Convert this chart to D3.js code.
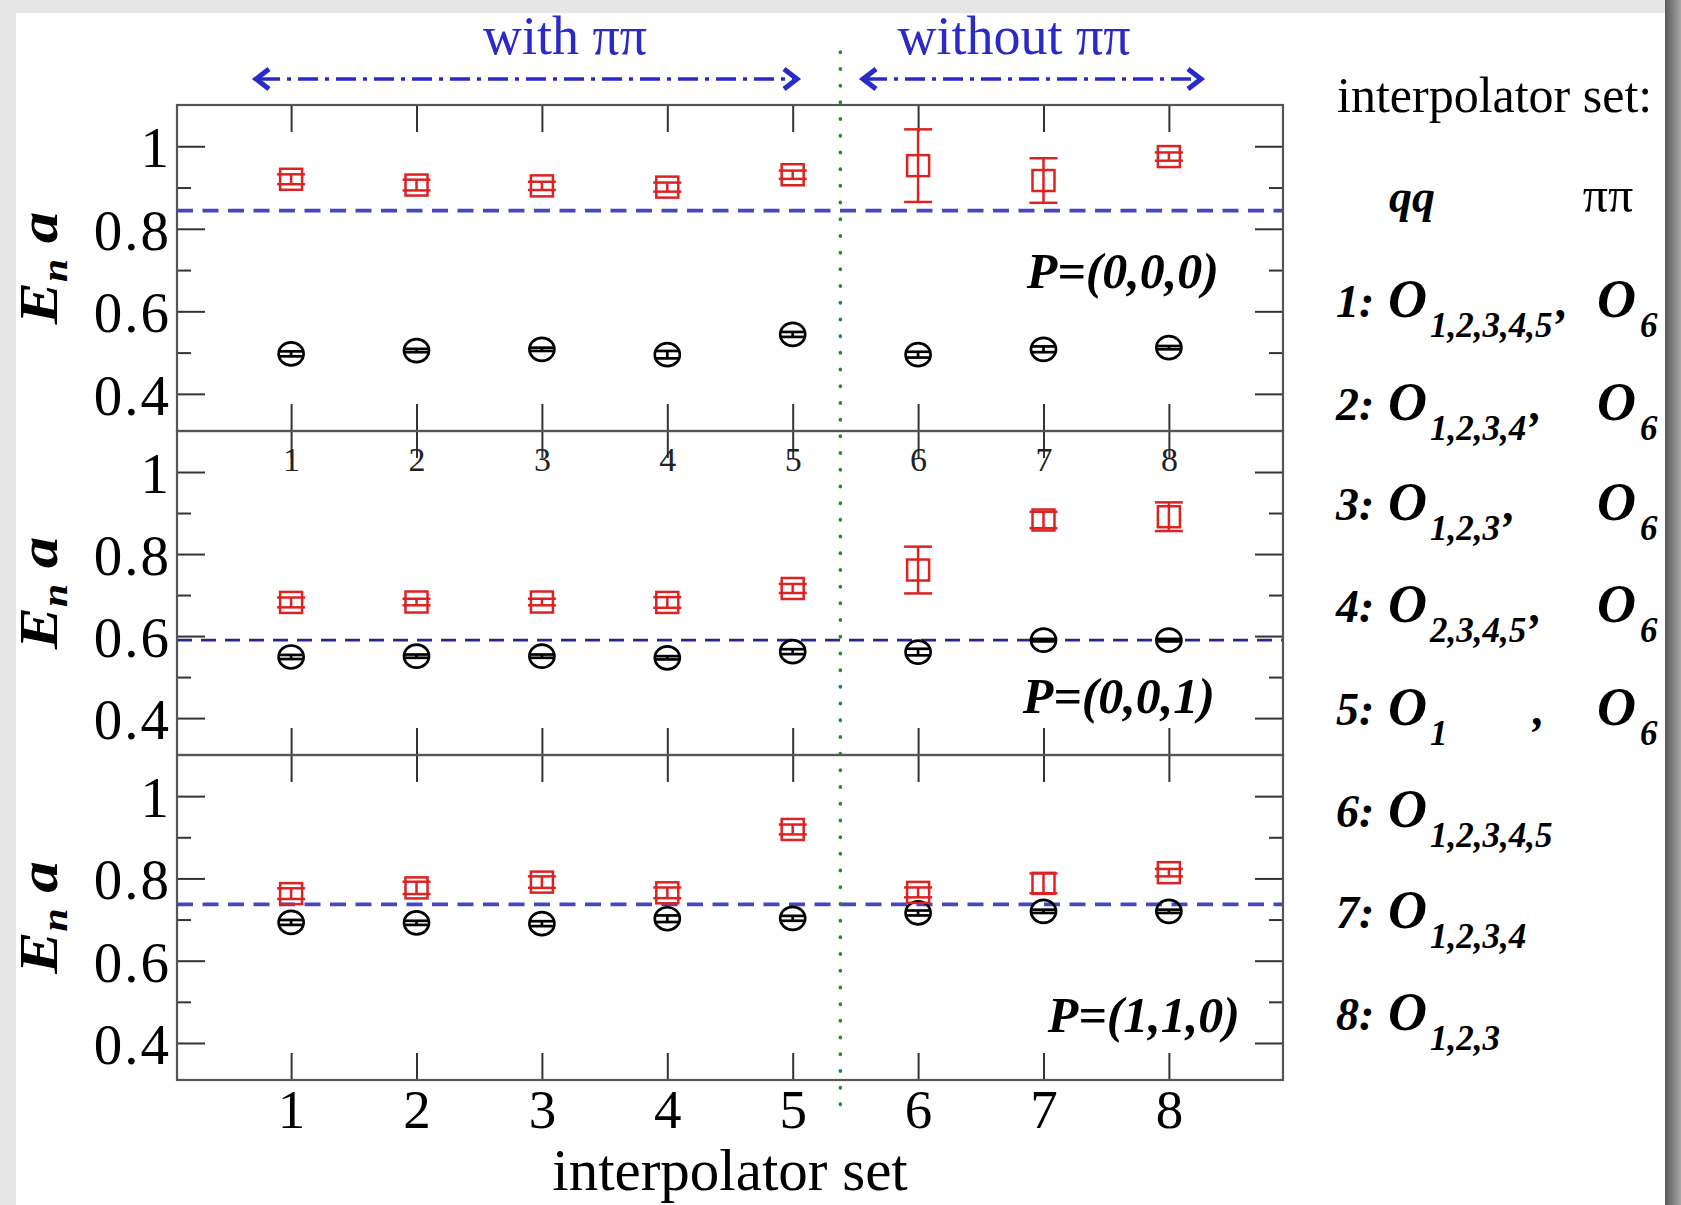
<!DOCTYPE html>
<html>
<head>
<meta charset="utf-8">
<script src="https://cdn.jsdelivr.net/npm/d3@7"></script>
<style>
  body { margin: 0; background: #e6e6e6; }
  svg { display: block; }
  text { font-family: "Liberation Serif", "Times New Roman", serif; }
</style>
</head>
<body>
<svg id="chart" width="1681" height="1205"></svg>
<script>
// ---- data ---------------------------------------------------------------
const sets = [1, 2, 3, 4, 5, 6, 7, 8];
const yTicks = [0.4, 0.6, 0.8, 1];
const yMinorTicks = [0.5, 0.7, 0.9];
const momenta = ["P=(0,0,0)", "P=(0,0,1)", "P=(1,1,0)"];

// first excited level (red squares) and ground level (black circles), E_n a
const excitedP000 = [0.920, 0.906, 0.904, 0.901, 0.931, 0.953, 0.917, 0.975];
const excitedErrP000 = [0.012, 0.013, 0.010, 0.011, 0.010, 0.088, 0.054, 0.010];
const groundP000 = [0.497, 0.505, 0.508, 0.495, 0.544, 0.495, 0.508, 0.512];
const groundErrP000 = [0.006, 0.004, 0.004, 0.009, 0.006, 0.007, 0.007, 0.004];

const excitedP001 = [0.682, 0.683, 0.683, 0.682, 0.716, 0.761, 0.883, 0.891];
const excitedErrP001 = [0.012, 0.008, 0.008, 0.013, 0.011, 0.057, 0.020, 0.035];
const groundP001 = [0.549, 0.551, 0.551, 0.547, 0.562, 0.561, 0.590, 0.590];
const groundErrP001 = [0.005, 0.004, 0.004, 0.004, 0.006, 0.008, 0.003, 0.003];

const excitedP110 = [0.763, 0.777, 0.791, 0.765, 0.919, 0.766, 0.788, 0.814];
const excitedErrP110 = [0.013, 0.015, 0.014, 0.013, 0.012, 0.012, 0.024, 0.009];
const groundP110 = [0.693, 0.692, 0.690, 0.702, 0.703, 0.716, 0.720, 0.720];
const groundErrP110 = [0.006, 0.005, 0.006, 0.008, 0.006, 0.006, 0.004, 0.004];

// two-pion threshold in each frame
const thresholds = [0.844, 0.590, 0.737];
// boundary between bases with and without the pi-pi interpolator
const piPiSplit = 5.38;

// interpolator-set legend
const setLabels = ["1:", "2:", "3:", "4:", "5:", "6:", "7:", "8:"];
const qqSubscripts = ["1,2,3,4,5", "1,2,3,4", "1,2,3", "2,3,4,5", "1", "1,2,3,4,5", "1,2,3,4", "1,2,3"];
const hasPiPi = [true, true, true, true, true, false, false, false];

const panels = [
  { label: momenta[0], exc: excitedP000, excErr: excitedErrP000, gnd: groundP000, gndErr: groundErrP000, thr: thresholds[0] },
  { label: momenta[1], exc: excitedP001, excErr: excitedErrP001, gnd: groundP001, gndErr: groundErrP001, thr: thresholds[1] },
  { label: momenta[2], exc: excitedP110, excErr: excitedErrP110, gnd: groundP110, gndErr: groundErrP110, thr: thresholds[2] }
];

// ---- layout ---------------------------------------------------------------
const W = 1681, H = 1205;
const plotL = 177, plotR = 1283;
const panelTop = [105, 431, 755];
const panelBottom = [431, 755, 1080];
const RED = "#dd2222", BLUE = "#2a2ac8", DASH_BLUE = "#4646c4";

const svg = d3.select("#chart");

// page backdrop with a soft edge on the right
const defs = svg.append("defs");
const edge = defs.append("linearGradient").attr("id", "edge")
  .attr("x1", 0).attr("x2", 1).attr("y1", 0).attr("y2", 0);
edge.append("stop").attr("offset", 0).attr("stop-color", "#5a5a5a");
edge.append("stop").attr("offset", 1).attr("stop-color", "#a8a8a8");
svg.append("rect").attr("width", W).attr("height", H).attr("fill", "#e6e6e6");
svg.append("rect").attr("x", 1665).attr("y", 0).attr("width", 16).attr("height", H).attr("fill", "url(#edge)");
svg.append("rect").attr("x", 16).attr("y", 13).attr("width", 1649).attr("height", H - 13).attr("fill", "#fff");

const x = d3.scaleLinear().domain([0.09, 8.91]).range([plotL, plotR]);

function styleAxis(sel) {
  sel.select(".domain").remove();
  sel.selectAll(".tick line").attr("stroke", "#333").attr("stroke-width", 2);
  sel.selectAll(".tick text").attr("fill", "#000").attr("font-family", "Liberation Serif");
}

const yFmt = d => d === 1 ? "1" : d3.format(".1f")(d);

panels.forEach((p, i) => {
  const top = panelTop[i], bottom = panelBottom[i];
  const y = d3.scaleLinear().domain([0.31, 1.1]).range([bottom, top]);
  const g = svg.append("g").attr("class", "panel");

  // threshold line
  g.append("line")
    .attr("x1", x.range()[0]).attr("x2", x.range()[1])
    .attr("y1", y(p.thr)).attr("y2", y(p.thr))
    .attr("stroke", i === 1 ? "#26268e" : DASH_BLUE)
    .attr("stroke-width", i === 1 ? 2.6 : 3.6)
    .attr("stroke-dasharray", i === 1 ? "15 9" : "16 9.5");

  // x ticks, inward on top and bottom
  g.append("g").attr("transform", `translate(0,${bottom})`)
    .call(d3.axisBottom(x).tickValues(sets).tickSize(-27)
      .tickPadding(9).tickFormat(i === 2 ? d3.format("d") : () => ""))
    .call(styleAxis)
    .call(a => a.selectAll(".tick text").attr("font-size", 55));
  g.append("g").attr("transform", `translate(0,${top})`)
    .call(d3.axisTop(x).tickValues(sets).tickSize(-27).tickFormat(() => ""))
    .call(styleAxis);

  // y ticks, major and minor, both sides
  g.append("g").attr("transform", `translate(${plotL},0)`)
    .call(d3.axisLeft(y).tickValues(yTicks).tickSize(-28).tickPadding(6).tickFormat(yFmt))
    .call(styleAxis)
    .call(a => a.selectAll(".tick text").attr("font-size", 57).attr("letter-spacing", 2)
      .attr("dy", "0.36em"));
  g.append("g").attr("transform", `translate(${plotL},0)`)
    .call(d3.axisLeft(y).tickValues(yMinorTicks).tickSize(-14).tickFormat(() => ""))
    .call(styleAxis);
  g.append("g").attr("transform", `translate(${plotR},0)`)
    .call(d3.axisRight(y).tickValues(yTicks).tickSize(-28).tickFormat(() => ""))
    .call(styleAxis);
  g.append("g").attr("transform", `translate(${plotR},0)`)
    .call(d3.axisRight(y).tickValues(yMinorTicks).tickSize(-14).tickFormat(() => ""))
    .call(styleAxis);

  // frame
  g.append("rect")
    .attr("x", plotL).attr("y", top)
    .attr("width", plotR - plotL).attr("height", bottom - top)
    .attr("fill", "none").attr("stroke", "#555").attr("stroke-width", 2.2);

  // ground level: open circles with error bars
  const gnd = g.append("g").attr("stroke", "#000").attr("stroke-width", 2.7).attr("fill", "none");
  sets.forEach((s, k) => {
    const cx = x(s), v = p.gnd[k], e = p.gndErr[k];
    const y0 = y(v - e), y1 = y(v + e);
    gnd.append("line").attr("x1", cx).attr("x2", cx).attr("y1", y0).attr("y2", y1);
    gnd.append("line").attr("x1", cx - 12).attr("x2", cx + 12).attr("y1", y0).attr("y2", y0);
    gnd.append("line").attr("x1", cx - 12).attr("x2", cx + 12).attr("y1", y1).attr("y2", y1);
    gnd.append("ellipse").attr("cx", cx).attr("cy", y(v)).attr("rx", 12.5).attr("ry", 11.5);
  });

  // excited level: open squares with error bars
  const exc = g.append("g").attr("stroke", RED).attr("stroke-width", 2.5).attr("fill", "none");
  sets.forEach((s, k) => {
    const cx = x(s), v = p.exc[k], e = p.excErr[k];
    const y0 = y(v - e), y1 = y(v + e);
    exc.append("line").attr("x1", cx).attr("x2", cx).attr("y1", y0).attr("y2", y1);
    exc.append("line").attr("x1", cx - 14).attr("x2", cx + 14).attr("y1", y0).attr("y2", y0);
    exc.append("line").attr("x1", cx - 14).attr("x2", cx + 14).attr("y1", y1).attr("y2", y1);
    exc.append("rect").attr("x", cx - 11).attr("y", y(v) - 10.5).attr("width", 22).attr("height", 21);
  });

  // momentum label
  const labelEnd = [1219, 1215, 1240][i];
  const labelBase = [288, 713, 1032][i];
  g.append("text")
    .attr("x", labelEnd).attr("y", labelBase)
    .attr("text-anchor", "end")
    .attr("font-size", 50).attr("font-weight", "bold").attr("font-style", "italic")
    .text(p.label);

  // E_n a axis title (glyphs a little wide, as in the typeset figure)
  const t = g.append("text")
    .attr("transform", `translate(57,${(top + bottom) / 2}) rotate(-90) scale(1.15,1)`)
    .attr("text-anchor", "middle")
    .attr("font-size", 55).attr("font-weight", "bold").attr("font-style", "italic");
  t.append("tspan").text("E");
  t.append("tspan").attr("font-size", 36).attr("dy", 10).text("n");
  t.append("tspan").attr("dy", -10).text(" a");
});

// small set numbers just below the top panel
svg.append("g").attr("transform", `translate(0,${panelBottom[0]})`)
  .call(d3.axisBottom(x).tickValues(sets).tickSize(0).tickPadding(16).tickFormat(d3.format("d")))
  .call(a => a.select(".domain").remove())
  .call(a => a.selectAll(".tick line").remove())
  .call(a => a.selectAll(".tick text").attr("font-size", 34).attr("fill", "#222")
    .attr("font-family", "Liberation Serif"));

// with / without pi-pi separator
svg.append("line")
  .attr("x1", x(piPiSplit)).attr("x2", x(piPiSplit))
  .attr("y1", 52).attr("y2", 1108)
  .attr("stroke", "#1f8a2e").attr("stroke-width", 3.5)
  .attr("stroke-linecap", "round")
  .attr("stroke-dasharray", "0.5 16.2");

// x-axis title
svg.append("text")
  .attr("x", (plotL + plotR) / 2).attr("y", 1190)
  .attr("text-anchor", "middle").attr("font-size", 59)
  .text("interpolator set");

// range headers with double-headed dash-dot arrows
function rangeArrow(xa, xb, yy) {
  const gA = svg.append("g").attr("stroke", BLUE).attr("fill", "none").attr("stroke-width", 3.6);
  gA.append("line").attr("x1", xa + 6).attr("x2", xb - 6).attr("y1", yy).attr("y2", yy)
    .attr("stroke-dasharray", "20 7 4 7");
  gA.append("path").attr("d", `M${xa + 15},${yy - 10} L${xa + 2},${yy} L${xa + 15},${yy + 10}`)
    .attr("stroke-width", 5).attr("stroke-linejoin", "miter");
  gA.append("path").attr("d", `M${xb - 15},${yy - 10} L${xb - 2},${yy} L${xb - 15},${yy + 10}`)
    .attr("stroke-width", 5).attr("stroke-linejoin", "miter");
}
rangeArrow(254, 799, 79);
rangeArrow(861, 1203, 79);
svg.append("text").attr("x", 565).attr("y", 54).attr("text-anchor", "middle")
  .attr("font-size", 54).attr("fill", BLUE).text("with ππ");
svg.append("text").attr("x", 1014).attr("y", 54).attr("text-anchor", "middle")
  .attr("font-size", 54).attr("fill", BLUE).text("without ππ");

// interpolator-set legend
const leg = svg.append("g");
leg.append("text").attr("x", 1337).attr("y", 112).attr("font-size", 50).text("interpolator set:");
leg.append("text").attr("x", 1412).attr("y", 212).attr("text-anchor", "middle")
  .attr("font-size", 46).attr("font-weight", "bold").attr("font-style", "italic").text("qq");
leg.append("text").attr("x", 1608).attr("y", 212).attr("text-anchor", "middle")
  .attr("font-size", 50).text("ππ");

const rowBase = [317, 420, 520, 622, 725, 827, 928, 1030];
const commaCol = [null, null, null, null, 1533, null, null, null];
const bi = s => s.attr("font-weight", "bold").attr("font-style", "italic");
setLabels.forEach((lab, r) => {
  const yb = rowBase[r];
  leg.append("text").attr("x", 1336).attr("y", yb).attr("font-size", 46).call(bi).text(lab);
  leg.append("text").attr("x", 1388).attr("y", yb).attr("font-size", 54).call(bi).text("O");
  const sub = leg.append("text").attr("x", 1430).attr("y", yb + 20).attr("font-size", 35).call(bi)
    .text(qqSubscripts[r]);
  if (hasPiPi[r]) {
    const subEnd = 1430 + sub.node().getComputedTextLength();
    const cx = commaCol[r] !== null ? commaCol[r] : subEnd + 4;
    leg.append("text").attr("x", cx).attr("y", yb).attr("font-size", 46).call(bi).text(",");
    leg.append("text").attr("x", 1597).attr("y", yb).attr("font-size", 54).call(bi).text("O");
    leg.append("text").attr("x", 1640).attr("y", yb + 20).attr("font-size", 35).call(bi).text("6");
  }
});
</script>
</body>
</html>
